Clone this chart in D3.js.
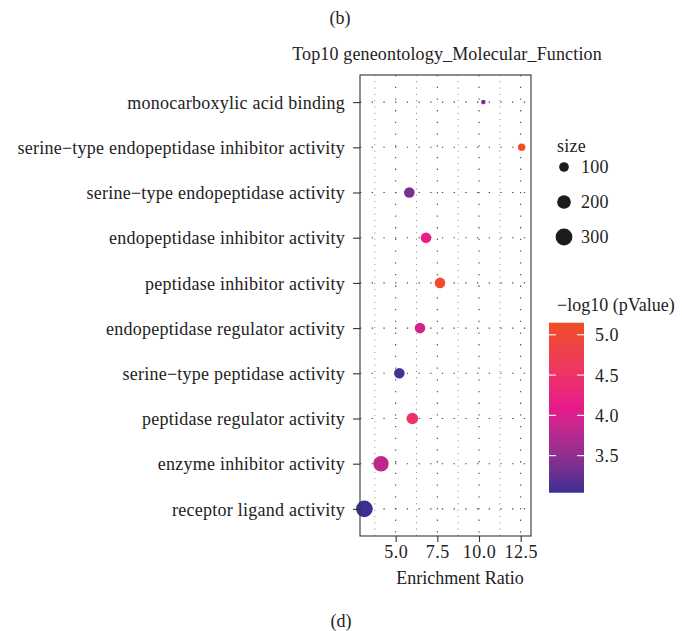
<!DOCTYPE html>
<html>
<head>
<meta charset="utf-8">
<script src="https://d3js.org/d3.v7.min.js"></script>
<style>
  html, body { margin: 0; padding: 0; background: #fff; }
  svg text { font-family: "Liberation Serif", "DejaVu Serif", serif; fill: #222; }
</style>
</head>
<body>
<svg id="chart" width="682" height="631"></svg>
<script>
// GO terms, top to bottom as drawn
const terms = [
  "monocarboxylic acid binding",
  "serine\u2212type endopeptidase inhibitor activity",
  "serine\u2212type endopeptidase activity",
  "endopeptidase inhibitor activity",
  "peptidase inhibitor activity",
  "endopeptidase regulator activity",
  "serine\u2212type peptidase activity",
  "peptidase regulator activity",
  "enzyme inhibitor activity",
  "receptor ligand activity"
]
const enrichmentRatio = [10.26, 12.56, 5.82, 6.82, 7.66, 6.46, 5.22, 6.0, 4.12, 3.12]
const termSize = [22, 58, 119, 119, 119, 119, 119, 142, 252, 292]
const negLog10P = [3.36, 5.15, 3.36, 4.15, 5.08, 3.95, 3.1, 4.5, 3.8, 3.04]

const xTicks = [5.0, 7.5, 10.0, 12.5]
const xMinorTicks = [3.75, 6.25, 8.75, 11.25]
const sizeBreaks = [100, 200, 300]
const colorBreaks = [3.5, 4.0, 4.5, 5.0]

// panel box
const pLeft = 360, pRight = 531, pTop = 75, pBottom = 536
const fontSize = 18
const spacing = "0.25px"

const svg = d3.select("#chart")

const x = d3.scaleLinear().domain([2.86, 13.12]).range([pLeft, pRight])
const y = d3.scalePoint().domain(terms).range([pTop, pBottom]).padding(0.6)
const r = d3.scaleSqrt().domain([0, 300]).range([0, 8.4])

const pMin = d3.min(negLog10P), pMax = d3.max(negLog10P)
const color = d3.scaleLinear()
  .domain([pMin, (pMin + pMax) / 2, pMax])
  .range(["#3a2f93", "#e8198b", "#f04e25"])
  .interpolate(d3.interpolateLab)

// grid - minor lines are thinner so the dots come closer
const grid = svg.append("g")
grid.selectAll(".vminor").data(xMinorTicks).join("line")
  .attr("x1", d => x(d)).attr("x2", d => x(d))
  .attr("y1", pTop).attr("y2", pBottom)
  .attr("stroke", "#555").attr("stroke-width", 0.8)
  .attr("stroke-dasharray", "0.9 5.4")
grid.selectAll(".vmajor").data(xTicks).join("line")
  .attr("x1", d => x(d)).attr("x2", d => x(d))
  .attr("y1", pTop).attr("y2", pBottom)
  .attr("stroke", "#444").attr("stroke-width", 1.1)
  .attr("stroke-dasharray", "1.3 10.4")
grid.selectAll(".hmajor").data(terms).join("line")
  .attr("x1", pLeft).attr("x2", pRight)
  .attr("y1", d => y(d)).attr("y2", d => y(d))
  .attr("stroke", "#444").attr("stroke-width", 1.1)
  .attr("stroke-dasharray", "1.3 10.4")

// points
svg.append("g").selectAll("circle").data(terms).join("circle")
  .attr("cx", (d, i) => x(enrichmentRatio[i]))
  .attr("cy", d => y(d))
  .attr("r", (d, i) => r(termSize[i]))
  .attr("fill", (d, i) => color(negLog10P[i]))

// panel border
svg.append("rect")
  .attr("x", pLeft).attr("y", pTop)
  .attr("width", pRight - pLeft).attr("height", pBottom - pTop)
  .attr("fill", "none").attr("stroke", "#333").attr("stroke-width", 1.1)

// y axis
const yAxis = svg.append("g").attr("transform", `translate(${pLeft},0)`)
  .call(d3.axisLeft(y).tickSize(7).tickPadding(8))
yAxis.select(".domain").remove()
yAxis.selectAll(".tick line").attr("stroke", "#333").attr("stroke-width", 1.1)
yAxis.selectAll(".tick text")
  .attr("font-size", fontSize).attr("letter-spacing", spacing)
  .attr("font-family", null).attr("fill", null)
  .attr("dy", "0.34em")

// x axis
const xAxis = svg.append("g").attr("transform", `translate(0,${pBottom})`)
  .call(d3.axisBottom(x).tickValues(xTicks).tickFormat(d3.format(".1f")).tickSize(6).tickPadding(3))
xAxis.select(".domain").remove()
xAxis.selectAll(".tick line").attr("stroke", "#333").attr("stroke-width", 1.1)
xAxis.selectAll(".tick text")
  .attr("font-size", fontSize).attr("letter-spacing", "0.5px")
  .attr("font-family", null).attr("fill", null)

svg.append("text")
  .attr("x", 460).attr("y", 584)
  .attr("text-anchor", "middle")
  .attr("font-size", fontSize)
  .text("Enrichment Ratio")

svg.append("text")
  .attr("x", 447).attr("y", 60)
  .attr("text-anchor", "middle")
  .attr("font-size", fontSize).attr("letter-spacing", "0.15px")
  .text("Top10 geneontology_Molecular_Function")

svg.append("text")
  .attr("x", 340).attr("y", 24)
  .attr("text-anchor", "middle")
  .attr("font-size", fontSize)
  .text("(b)")

svg.append("text")
  .attr("x", 341).attr("y", 627)
  .attr("text-anchor", "middle")
  .attr("font-size", fontSize)
  .text("(d)")

// size legend
const sizeLeg = svg.append("g")
sizeLeg.append("text")
  .attr("x", 557).attr("y", 152)
  .attr("font-size", fontSize).attr("letter-spacing", spacing)
  .text("size")
const sizeY = d3.scalePoint().domain(sizeBreaks).range([167, 237])
sizeLeg.selectAll("circle").data(sizeBreaks).join("circle")
  .attr("cx", 564).attr("cy", d => sizeY(d))
  .attr("r", d => r(d))
  .attr("fill", "#1c1c1c")
sizeLeg.selectAll(".lab").data(sizeBreaks).join("text")
  .attr("x", 581).attr("y", d => sizeY(d))
  .attr("dy", "0.36em")
  .attr("font-size", fontSize).attr("letter-spacing", spacing)
  .text(d => d)

// colour bar
const barX = 549, barW = 35, barTop = 322.7, barBottom = 492.7
const barY = d3.scaleLinear().domain([pMin, pMax]).range([barBottom, barTop])
const grad = svg.append("defs").append("linearGradient")
  .attr("id", "pgrad").attr("x1", 0).attr("y1", 1).attr("x2", 0).attr("y2", 0)
grad.selectAll("stop").data(d3.range(0, 1.0001, 0.05)).join("stop")
  .attr("offset", d => d)
  .attr("stop-color", d => color(pMin + d * (pMax - pMin)))
svg.append("rect")
  .attr("x", barX).attr("y", barTop)
  .attr("width", barW).attr("height", barBottom - barTop)
  .attr("fill", "url(#pgrad)")
const cbTicks = svg.append("g")
cbTicks.selectAll(".tl").data(colorBreaks).join("line")
  .attr("x1", barX).attr("x2", barX + 7)
  .attr("y1", d => barY(d)).attr("y2", d => barY(d))
  .attr("stroke", "#fff").attr("stroke-width", 1.1)
cbTicks.selectAll(".tr").data(colorBreaks).join("line")
  .attr("x1", barX + barW - 7).attr("x2", barX + barW)
  .attr("y1", d => barY(d)).attr("y2", d => barY(d))
  .attr("stroke", "#fff").attr("stroke-width", 1.1)
cbTicks.selectAll("text").data(colorBreaks).join("text")
  .attr("x", 595).attr("y", d => barY(d))
  .attr("dy", "0.36em")
  .attr("font-size", fontSize).attr("letter-spacing", "0.5px")
  .text(d => d.toFixed(1))

svg.append("text")
  .attr("x", 557).attr("y", 311)
  .attr("font-size", fontSize)
  .text("\u2212log10 (pValue)")
</script>
</body>
</html>
